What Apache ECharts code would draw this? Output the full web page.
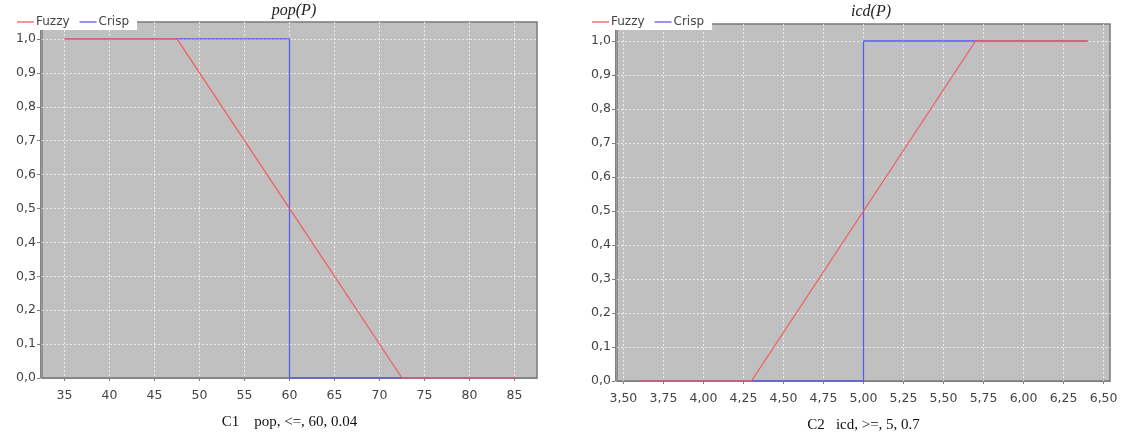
<!DOCTYPE html>
<html>
<head>
<meta charset="utf-8">
<script src="https://cdn.jsdelivr.net/npm/echarts@6/dist/echarts.min.js"></script>
<style>
  html, body { margin: 0; padding: 0; background: #fff; }
  #main { width: 1128px; height: 439px; }
</style>
</head>
<body>
<div id="main"></div>
<script>
  // pop(P) : C1 pop, <=, 60, 0.04
  var popFuzzyX = [35, 47.5, 72.5, 85];
  var popFuzzyY = [1, 1, 0, 0];
  var popCrispX = [35, 60, 60, 85];
  var popCrispY = [1, 1, 0, 0];
  var popTicks = [35, 40, 45, 50, 55, 60, 65, 70, 75, 80, 85];

  // icd(P) : C2 icd, >=, 5, 0.7
  var icdFuzzyX = [3.6, 4.3, 5.7, 6.4];
  var icdFuzzyY = [0, 0, 1, 1];
  var icdCrispX = [3.6, 5, 5, 6.4];
  var icdCrispY = [0, 0, 1, 1];
  var icdTicks = [3.5, 3.75, 4, 4.25, 4.5, 4.75, 5, 5.25, 5.5, 5.75, 6, 6.25, 6.5];

  var yTicks = [0, 0.1, 0.2, 0.3, 0.4, 0.5, 0.6, 0.7, 0.8, 0.9, 1];
  var legendNames = ['Fuzzy', 'Crisp'];

  var fuzzyColor = '#f25e5e';
  var crispColor = '#5a5af2';
  var labelColor = '#444';

  function pairs(xs, ys) {
    var out = [];
    for (var i = 0; i < xs.length; i++) out.push([xs[i], ys[i]]);
    return out;
  }
  // java style decimal comma
  function comma(d) {
    return function (v) { return Number(v).toFixed(d).replace('.', ','); };
  }
  // 5% margin like the original auto range
  function padRange(xs) {
    var lo = Math.min.apply(null, xs), hi = Math.max.apply(null, xs);
    var m = (hi - lo) * 0.05;
    return [lo - m, hi + m];
  }

  var popRange = padRange(popFuzzyX);
  var icdRange = padRange(icdFuzzyX);

  function xAxisOf(idx, range, ticks, decimals, name) {
    return {
      type: 'value',
      gridIndex: idx,
      min: range[0],
      max: range[1],
      offset: 4,
      name: name,
      nameLocation: 'middle',
      nameGap: 33,
      nameTextStyle: { fontFamily: 'Liberation Serif', fontSize: 15, color: '#111' },
      axisLine: { show: true, lineStyle: { color: '#808080', width: 1 } },
      axisTick: { show: true, length: 3, customValues: ticks, lineStyle: { color: '#808080' } },
      axisLabel: {
        customValues: ticks,
        formatter: comma(decimals),
        color: labelColor,
        fontFamily: 'DejaVu Sans',
        fontSize: 12.5,
        margin: 7
      },
      splitLine: { show: true, lineStyle: { color: 'rgba(255,255,255,0.7)', type: [2, 2], width: 1 } }
    };
  }

  function yAxisOf(idx) {
    return {
      type: 'value',
      gridIndex: idx,
      min: 0,
      max: 1.05,
      offset: 2,
      axisLine: { show: true, lineStyle: { color: '#808080', width: 1 } },
      axisTick: { show: true, length: 3, customValues: yTicks, lineStyle: { color: '#808080' } },
      axisLabel: {
        customValues: yTicks,
        formatter: comma(1),
        color: labelColor,
        fontFamily: 'DejaVu Sans',
        fontSize: 12.5,
        margin: 4
      },
      splitLine: { show: true, lineStyle: { color: 'rgba(255,255,255,0.7)', type: [2, 2], width: 1 } }
    };
  }

  function lineSeries(name, idx, data, color, z) {
    return {
      name: name,
      type: 'line',
      xAxisIndex: idx,
      yAxisIndex: idx,
      data: data,
      symbol: 'none',
      z: z,
      animation: false,
      lineStyle: { color: color, width: 1.3 },
      itemStyle: { color: color }
    };
  }

  function legendOf(left) {
    return {
      data: legendNames,
      left: left,
      top: 14,
      backgroundColor: '#fff',
      padding: [2, 8, 2, 3],
      icon: 'rect',
      itemWidth: 17,
      itemHeight: 1.3,
      itemGap: 10,
      textStyle: { color: labelColor, fontFamily: 'DejaVu Sans', fontSize: 12, padding: [0, 0, 0, -3] }
    };
  }

  var chart = echarts.init(document.getElementById('main'));
  chart.setOption({
    backgroundColor: '#fff',
    animation: false,
    title: [
      { text: 'pop(P)', left: 289, top: -2, textAlign: 'center',
        textStyle: { fontFamily: 'Liberation Serif', fontStyle: 'italic', fontWeight: 'normal', fontSize: 16, color: '#222' } },
      { text: 'icd(P)', left: 866, top: -1, textAlign: 'center',
        textStyle: { fontFamily: 'Liberation Serif', fontStyle: 'italic', fontWeight: 'normal', fontSize: 16, color: '#222' } }
    ],
    legend: [legendOf(14), legendOf(589)],
    grid: [
      { left: 42, right: 591, top: 22, bottom: 61, show: true, backgroundColor: '#c0c0c0',
        borderColor: '#7a7a7a', borderWidth: 1.5 },
      { left: 617, right: 18, top: 24, bottom: 58, show: true, backgroundColor: '#c0c0c0',
        borderColor: '#7a7a7a', borderWidth: 1.5 }
    ],
    xAxis: [
      xAxisOf(0, popRange, popTicks, 0, 'C1    pop, <=, 60, 0.04'),
      xAxisOf(1, icdRange, icdTicks, 2, 'C2   icd, >=, 5, 0.7')
    ],
    yAxis: [yAxisOf(0), yAxisOf(1)],
    series: [
      lineSeries('Fuzzy', 0, pairs(popFuzzyX, popFuzzyY), fuzzyColor, 3),
      lineSeries('Crisp', 0, pairs(popCrispX, popCrispY), crispColor, 2),
      lineSeries('Fuzzy', 1, pairs(icdFuzzyX, icdFuzzyY), fuzzyColor, 3),
      lineSeries('Crisp', 1, pairs(icdCrispX, icdCrispY), crispColor, 2)
    ]
  });
</script>
</body>
</html>
